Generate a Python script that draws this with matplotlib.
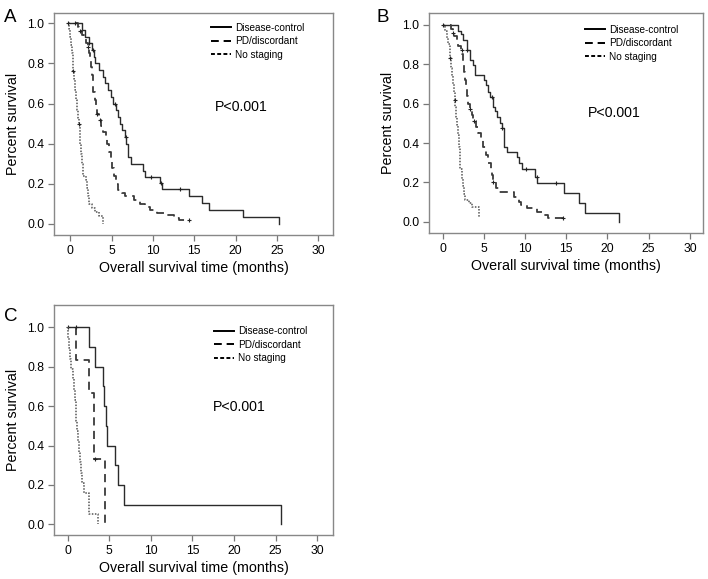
import matplotlib
matplotlib.use("Agg")
import matplotlib.pyplot as plt
from matplotlib.lines import Line2D

plt.rcParams['font.family'] = ['Liberation Sans', 'DejaVu Sans']

labels = ['Disease-control', 'PD/discordant', 'No staging']
p_text = 'P<0.001'

# ---- panel A ----
a_dc_t = [-0.3, 1.4, 1.8, 2.3, 2.6, 2.9, 3.0, 3.5, 3.9, 4.2, 4.6, 4.9, 5.2, 5.5, 5.8, 6.0, 6.3,
          6.6, 6.8, 6.95, 7.4, 8.8, 9.1, 10.8, 11.1, 14.4, 15.9, 16.8, 20.9, 25.3]
a_dc_s = [1.0, 0.966, 0.933, 0.90, 0.866, 0.833, 0.80, 0.766, 0.733, 0.70, 0.666, 0.633, 0.60,
          0.566, 0.533, 0.50, 0.466, 0.433, 0.40, 0.333, 0.30, 0.266, 0.235, 0.205, 0.175, 0.14,
          0.105, 0.07, 0.035, 0.0]
a_dc_cens = [(2.3, 0.90), (2.7, 0.866), (5.4, 0.60), (6.7, 0.433), (9.8, 0.235), (11.0, 0.205), (13.3, 0.175)]

a_pd_t = [0.6, 0.9, 1.1, 1.4, 1.6, 1.9, 2.1, 2.3, 2.4, 2.5, 2.6, 2.7, 2.8, 3.0, 3.1, 3.2, 3.5, 3.7,
          4.0, 4.3, 4.5, 4.7, 4.9, 5.1, 5.3, 5.5, 5.8, 6.2, 6.6, 7.7, 8.4, 9.0, 9.6, 10.5, 11.6,
          12.5, 13.1, 14.4]
a_pd_s = [1.0, 0.98, 0.96, 0.94, 0.92, 0.90, 0.88, 0.85, 0.82, 0.78, 0.74, 0.70, 0.66, 0.62, 0.58,
          0.55, 0.52, 0.49, 0.46, 0.43, 0.40, 0.36, 0.32, 0.28, 0.24, 0.20, 0.17, 0.155, 0.14, 0.12,
          0.10, 0.085, 0.07, 0.055, 0.045, 0.03, 0.017, 0.017]
a_pd_cens = [(0.6, 1.0), (1.2, 0.96), (2.2, 0.88), (3.2, 0.55), (3.6, 0.52), (14.4, 0.017)]

a_ns_t = [-0.3, -0.1, 0.0, 0.1, 0.2, 0.3, 0.35, 0.45, 0.55, 0.65, 0.8, 0.95, 1.05, 1.15, 1.2, 1.3,
          1.4, 1.5, 1.9, 2.0, 2.1, 2.3, 2.6, 3.0, 3.5, 4.0]
a_ns_s = [1.0, 0.97, 0.93, 0.89, 0.85, 0.80, 0.76, 0.72, 0.67, 0.62, 0.57, 0.53, 0.50, 0.45, 0.40,
          0.35, 0.30, 0.24, 0.22, 0.18, 0.14, 0.10, 0.08, 0.06, 0.04, 0.0]
a_ns_cens = [(-0.3, 1.0), (0.3, 0.76), (1.1, 0.50)]

# ---- panel B ----
b_dc_t = [0.0, 1.8, 2.2, 2.5, 2.9, 3.3, 3.7, 3.9, 5.0, 5.2, 5.5, 5.7, 6.1, 6.3, 6.6, 7.0, 7.2, 7.4,
          7.75, 9.0, 9.2, 9.6, 11.2, 11.5, 14.7, 16.5, 17.3, 21.45]
b_dc_s = [1.0, 0.97, 0.95, 0.92, 0.87, 0.82, 0.795, 0.745, 0.72, 0.694, 0.66, 0.635, 0.584, 0.56,
          0.53, 0.50, 0.475, 0.38, 0.356, 0.33, 0.30, 0.27, 0.23, 0.196, 0.145, 0.095, 0.047, 0.0]
b_dc_cens = [(2.9, 0.87), (6.0, 0.635), (7.2, 0.475), (10.1, 0.27), (11.4, 0.23), (13.8, 0.196)]

b_pd_t = [0.9, 1.0, 1.2, 1.4, 1.7, 1.9, 2.2, 2.4, 2.5, 2.6, 2.7, 2.85, 3.0, 3.1, 3.3, 3.5, 3.7,
          4.0, 4.3, 4.6, 4.9, 5.2, 5.5, 5.8, 5.95, 6.1, 6.5, 6.8, 8.6, 9.2, 9.5, 10.2, 11.5, 12.0,
          12.8, 14.6]
b_pd_s = [1.0, 0.98, 0.96, 0.94, 0.91, 0.89, 0.87, 0.85, 0.80, 0.76, 0.72, 0.68, 0.64, 0.60, 0.57,
          0.54, 0.51, 0.48, 0.45, 0.42, 0.38, 0.34, 0.30, 0.27, 0.24, 0.20, 0.17, 0.15, 0.128, 0.10,
          0.085, 0.07, 0.05, 0.035, 0.018, 0.018]
b_pd_cens = [(1.3, 0.96), (2.3, 0.87), (3.3, 0.57), (3.8, 0.51), (6.1, 0.20), (14.6, 0.018)]

b_ns_t = [0.0, 0.3, 0.5, 0.7, 0.85, 1.0, 1.1, 1.25, 1.35, 1.45, 1.55, 1.65, 1.75, 1.85, 1.95, 2.05,
          2.15, 2.3, 2.45, 2.6, 2.75, 3.2, 3.5, 4.4]
b_ns_s = [1.0, 0.97, 0.93, 0.90, 0.83, 0.78, 0.74, 0.70, 0.66, 0.62, 0.58, 0.53, 0.49, 0.44, 0.38,
          0.32, 0.27, 0.22, 0.18, 0.14, 0.11, 0.095, 0.075, 0.02]
b_ns_cens = [(0.0, 1.0), (0.9, 0.83), (1.5, 0.62)]

# ---- panel C ----
c_dc_t = [0.0, 2.5, 3.3, 4.2, 4.4, 4.6, 4.75, 5.7, 6.0, 6.8, 25.7]
c_dc_s = [1.0, 0.9, 0.8, 0.7, 0.6, 0.5, 0.4, 0.3, 0.2, 0.1, 0.0]
c_dc_cens = [(0.0, 1.0)]

c_pd_t = [1.0, 1.0, 2.5, 3.2, 4.5]
c_pd_s = [1.0, 0.833, 0.667, 0.333, 0.0]
c_pd_cens = [(1.0, 1.0), (3.3, 0.333)]

c_ns_t = [0.0, 0.0, 0.1, 0.25, 0.35, 0.6, 0.7, 0.85, 0.95, 1.0, 1.1, 1.2, 1.3, 1.5, 1.6, 1.75,
          1.9, 2.6, 3.6]
c_ns_s = [1.0, 0.947, 0.895, 0.842, 0.789, 0.737, 0.684, 0.632, 0.579, 0.526, 0.474, 0.421, 0.368,
          0.316, 0.263, 0.211, 0.158, 0.053, 0.0]
c_ns_cens = []

panels = {
    'A': dict(pos=[0.0763, 0.594, 0.394, 0.383], xlim=(-1.97, 31.8), ylim=(-0.056, 1.05),
              curves=[(a_dc_t, a_dc_s, a_dc_cens), (a_pd_t, a_pd_s, a_pd_cens), (a_ns_t, a_ns_s, a_ns_cens)],
              leg=(0.55, 0.975), ptxt=(0.577, 0.577), letter=(0.005, 0.985)),
    'B': dict(pos=[0.606, 0.5976, 0.387, 0.380], xlim=(-1.66, 31.6), ylim=(-0.056, 1.059),
              curves=[(b_dc_t, b_dc_s, b_dc_cens), (b_pd_t, b_pd_s, b_pd_cens), (b_ns_t, b_ns_s, b_ns_cens)],
              leg=(0.555, 0.965), ptxt=(0.58, 0.547), letter=(0.532, 0.985)),
    'C': dict(pos=[0.0763, 0.076, 0.394, 0.397], xlim=(-1.65, 31.9), ylim=(-0.054, 1.113),
              curves=[(c_dc_t, c_dc_s, c_dc_cens), (c_pd_t, c_pd_s, c_pd_cens), (c_ns_t, c_ns_s, c_ns_cens)],
              leg=(0.56, 0.925), ptxt=(0.57, 0.558), letter=(0.005, 0.468)),
}

styles = [dict(color='#2b2b2b', lw=1.0, ls='-'),
          dict(color='#3a3a3a', lw=1.3, ls=(0, (4.5, 3))),
          dict(color='#555555', lw=1.1, ls=(0, (1, 1)))]
leg_styles = [dict(color='black', lw=1.4, ls='-'),
              dict(color='black', lw=1.4, ls=(0, (4, 2.5))),
              dict(color='black', lw=1.4, ls=(0, (2, 1.2)))]

fig = plt.figure(figsize=(7.08, 5.79), dpi=100)

for name, p in panels.items():
    ax = fig.add_axes(p['pos'])
    for (t, s, cens), st in zip(p['curves'], styles):
        ax.step(t, s, where='post', **st)
        if cens:
            cx, cy = zip(*cens)
            ax.plot(cx, cy, ls='none', marker='+', ms=3, mew=0.8, color='#222222')
    ax.set_xlim(*p['xlim'])
    ax.set_ylim(*p['ylim'])
    ax.set_xticks([0, 5, 10, 15, 20, 25, 30])
    ax.set_yticks([0.0, 0.2, 0.4, 0.6, 0.8, 1.0])
    ax.set_yticklabels(['0.0', '0.2', '0.4', '0.6', '0.8', '1.0'])
    ax.tick_params(labelsize=8.7, length=4, width=0.9, color='#777777', pad=3)
    for sp in ax.spines.values():
        sp.set_color('#888888')
        sp.set_linewidth(1.0)
    ax.set_xlabel('Overall survival time (months)', fontsize=10.3, labelpad=3)
    ax.set_ylabel('Percent survival', fontsize=10.3, labelpad=5)
    handles = [Line2D([0], [0], **ls) for ls in leg_styles]
    ax.legend(handles, labels, loc='upper left', bbox_to_anchor=p['leg'], frameon=False,
              fontsize=7.2, handlelength=2.0, handletextpad=0.4, labelspacing=0.35,
              borderaxespad=0)
    ax.text(p['ptxt'][0], p['ptxt'][1], p_text, transform=ax.transAxes, fontsize=10.2,
            va='center', ha='left')
    fig.text(p['letter'][0], p['letter'][1], name, fontsize=13.5, va='top', ha='left')

fig.savefig('out.png', dpi=100)
